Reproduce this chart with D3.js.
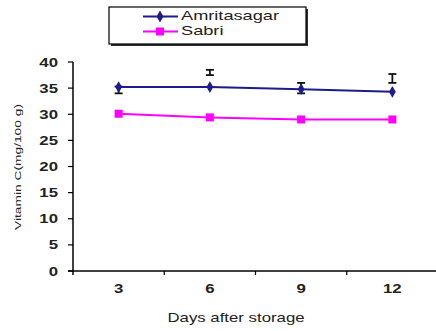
<!DOCTYPE html>
<html><head><meta charset="utf-8">
<script src="https://cdn.jsdelivr.net/npm/d3@7"></script>
<style>body{margin:0;background:#fff}svg{display:block}text{font-family:"Liberation Sans",Arial,sans-serif}</style>
</head><body>
<script>
const days = ["3","6","9","12"];
const amritasagar = [35.2, 35.2, 34.8, 34.3];
const sabri = [30.1, 29.4, 29.0, 29.0];
const errLow = [34.0, 37.5, 34.0, 36.0];
const errHigh = [35.3, 38.5, 36.0, 37.7];
const yTicks = [0,5,10,15,20,25,30,35,40];
const seriesNames = ["Amritasagar","Sabri"];

const W=436,H=331;
const svg=d3.select("body").append("svg").attr("width",W).attr("height",H);
const x=d3.scaleBand().domain(days).range([73,438]).padding(0);
const y=d3.scaleLinear().domain([0,40]).range([271,62]);
const cx=d=>x(d)+x.bandwidth()/2;
const SX=1.4;
function txt(px,py,s,opt={}){
  return svg.append("text").attr("transform",`translate(${px},${py}) scale(${opt.sx||SX},1)`)
    .attr("text-anchor",opt.anchor||"start").attr("font-size",opt.size||12)
    .attr("font-weight",opt.bold?"bold":"normal").attr("fill","#222").text(s);
}

// axes
svg.append("line").attr("x1",73).attr("x2",73).attr("y1",y(40)).attr("y2",275).attr("stroke","#000").attr("stroke-width",1.5);
svg.append("line").attr("x1",68).attr("x2",438).attr("y1",y(0)).attr("y2",y(0)).attr("stroke","#000").attr("stroke-width",1.5);
yTicks.forEach(t=>{
  svg.append("line").attr("x1",68).attr("x2",73).attr("y1",y(t)).attr("y2",y(t)).attr("stroke","#000").attr("stroke-width",1.2);
  txt(58,y(t)+4.5,t,{anchor:"end",bold:true,size:12});
});
days.forEach((d,i)=>{
  if(i>0) svg.append("line").attr("x1",x(d)).attr("x2",x(d)).attr("y1",y(0)).attr("y2",y(0)+4).attr("stroke","#000").attr("stroke-width",1.2);
  txt(cx(d),293,d,{anchor:"middle",bold:true,size:12});
});
txt(236,322,"Days after storage",{anchor:"middle",size:12});
svg.append("text").attr("transform","translate(21,167) rotate(-90) scale(1.45,1)").attr("text-anchor","middle")
  .attr("font-size",9.5).attr("fill","#222").text("Vitamin C(mg/100 g)");

// error bars
days.forEach((d,i)=>{
  const g=svg.append("g").attr("stroke","#111").attr("stroke-width",1.8);
  g.append("line").attr("x1",cx(d)).attr("x2",cx(d)).attr("y1",y(errLow[i])).attr("y2",y(errHigh[i]));
  g.append("line").attr("x1",cx(d)-4).attr("x2",cx(d)+4).attr("y1",y(errLow[i])).attr("y2",y(errLow[i]));
  g.append("line").attr("x1",cx(d)-4).attr("x2",cx(d)+4).attr("y1",y(errHigh[i])).attr("y2",y(errHigh[i]));
});

const line=d3.line().x((v,i)=>cx(days[i])).y(v=>y(v));
svg.append("path").attr("d",line(amritasagar)).attr("fill","none").attr("stroke","#1c1c8c").attr("stroke-width",2);
svg.append("path").attr("d",line(sabri)).attr("fill","none").attr("stroke","#ff00ff").attr("stroke-width",2);
const diamond=d3.symbol().type(d3.symbolDiamond).size(40);
amritasagar.forEach((v,i)=>svg.append("path").attr("d",diamond()).attr("transform",`translate(${cx(days[i])},${y(v)})`).attr("fill","#1c1c8c"));
sabri.forEach((v,i)=>svg.append("rect").attr("x",cx(days[i])-4).attr("y",y(v)-4).attr("width",8).attr("height",8).attr("fill","#ff00ff"));

// legend
svg.append("rect").attr("x",111).attr("y",9).attr("width",197).attr("height",37).attr("fill","#333");
svg.append("rect").attr("x",109).attr("y",7).attr("width",197).attr("height",37).attr("fill","#fff").attr("stroke","#000").attr("stroke-width",1.2);
const cols=["#1c1c8c","#ff00ff"];
seriesNames.forEach((n,i)=>{
  const ly=16.5+i*15;
  svg.append("line").attr("x1",143).attr("x2",178).attr("y1",ly).attr("y2",ly).attr("stroke",cols[i]).attr("stroke-width",2);
  if(i===0) svg.append("path").attr("d",diamond()).attr("transform",`translate(160,${ly})`).attr("fill",cols[i]);
  else svg.append("rect").attr("x",156).attr("y",ly-4).attr("width",8).attr("height",8).attr("fill",cols[i]);
  txt(181,ly+3,n,{size:13});
});
</script>
</body></html>
